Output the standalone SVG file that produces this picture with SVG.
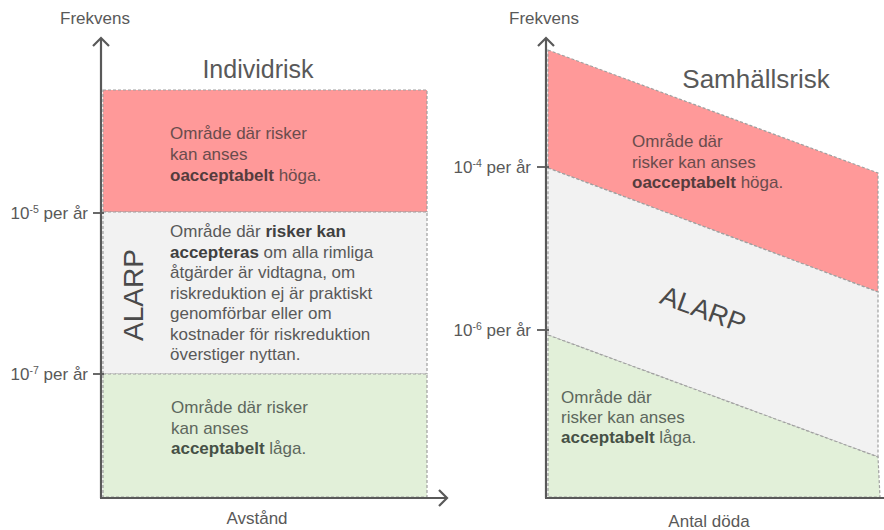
<svg xmlns="http://www.w3.org/2000/svg" width="884" height="530" viewBox="0 0 884 530">
<defs>
<style>
text{font-family:"Liberation Sans",Arial,sans-serif;fill:#595959}
.lbl{font-size:17px}
.body{font-size:17px}
.title{font-size:25px}
.alarp{font-size:28px;fill:#4a4a4a}
.b{font-weight:bold}
.rt{fill:#6a4c4d}
.rtb{fill:#553c3d;font-weight:bold}
.gt{fill:#5d675d}
.gtb{fill:#465046;font-weight:bold}
.gyb{fill:#404040;font-weight:bold}
.red{fill:#ff9999}
.gray{fill:#f2f2f2}
.green{fill:#e2f0d9}
.dash{fill:none;stroke:#a0a0a0;stroke-width:1.2;stroke-dasharray:3 2}
.axis{fill:none;stroke:#595959;stroke-width:2.2}
.tick{fill:none;stroke:#595959;stroke-width:1.8}
</style>
<marker id="arr" markerUnits="userSpaceOnUse" markerWidth="22" markerHeight="22" refX="11" refY="11" orient="auto" viewBox="0 0 22 22">
<path d="M3,3 L11,11 L3,19" fill="none" stroke="#595959" stroke-width="2.2"/>
</marker>
</defs>

<!-- Left chart: Individrisk -->
<g id="left-high">
<rect class="red" x="103" y="90" width="324" height="122"/>
<rect class="dash" x="103" y="90" width="324" height="122"/>
<text class="body rt" x="170" y="139">Område där risker</text>
<text class="body rt" x="170" y="160">kan anses</text>
<text class="body rt" x="170" y="181"><tspan class="rtb">oacceptabelt</tspan> höga.</text>
</g>
<g id="left-alarp">
<rect class="gray" x="103" y="212" width="324" height="162"/>
<rect class="dash" x="103" y="212" width="324" height="162"/>
<text class="alarp" transform="translate(143,295) rotate(-90)" text-anchor="middle">ALARP</text>
<text class="body" x="170" y="237">Område där <tspan class="gyb">risker kan</tspan></text>
<text class="body" x="170" y="257.5"><tspan class="gyb">accepteras</tspan> om alla rimliga</text>
<text class="body" x="170" y="278">åtgärder är vidtagna, om</text>
<text class="body" x="170" y="298.5">riskreduktion ej är praktiskt</text>
<text class="body" x="170" y="319">genomförbar eller om</text>
<text class="body" x="170" y="339.5">kostnader för riskreduktion</text>
<text class="body" x="170" y="360">överstiger nyttan.</text>
</g>
<g id="left-low">
<rect class="green" x="103" y="374" width="324" height="123"/>
<rect class="dash" x="103" y="374" width="324" height="123"/>
<text class="body gt" x="171" y="413">Område där risker</text>
<text class="body gt" x="171" y="433.5">kan anses</text>
<text class="body gt" x="171" y="454"><tspan class="gtb">acceptabelt</tspan> låga.</text>
</g>
<g id="left-title">
<text class="title" x="258" y="78" text-anchor="middle">Individrisk</text>
</g>

<!-- Right chart: Samhällsrisk -->
<g id="right-high">
<polygon class="red" points="548,50 878,173 878,292 548,168"/>
<polygon class="dash" points="548,50 878,173 878,292 548,168"/>
<text class="body rt" x="632" y="147">Område där</text>
<text class="body rt" x="632" y="167.5">risker kan anses</text>
<text class="body rt" x="632" y="188"><tspan class="rtb">oacceptabelt</tspan> höga.</text>
</g>
<g id="right-alarp">
<polygon class="gray" points="548,168 878,292 878,457 548,335"/>
<polygon class="dash" points="548,168 878,292 878,457 548,335"/>
<text class="alarp" style="font-size:27px" transform="translate(700,318) rotate(20)" text-anchor="middle">ALARP</text>
</g>
<g id="right-low">
<polygon class="green" points="548,335 878,457 880,497 548,497"/>
<polygon class="dash" points="548,335 878,457 880,497 548,497"/>
<text class="body gt" x="561" y="403">Område där</text>
<text class="body gt" x="561" y="423">risker kan anses</text>
<text class="body gt" x="561" y="443"><tspan class="gtb">acceptabelt</tspan> låga.</text>
</g>
<g id="right-title">
<text class="title" style="font-size:26px" x="756" y="88" text-anchor="middle">Samhällsrisk</text>
</g>

<!-- Axes, ticks -->
<g id="connectors">
<path class="axis" d="M101,498 L101,38" marker-end="url(#arr)"/>
<path class="axis" d="M100,498 L447,498" marker-end="url(#arr)"/>
<line class="tick" x1="93" y1="213" x2="104" y2="213"/>
<line class="tick" x1="93" y1="374" x2="104" y2="374"/>
<path class="axis" d="M546,498 L546,38" marker-end="url(#arr)"/>
<path class="axis" d="M545,498 L884,498"/>
<line class="tick" x1="537" y1="167" x2="549" y2="167"/>
<line class="tick" x1="537" y1="330" x2="549" y2="330"/>
</g>

<g id="axis-labels">
<text class="lbl" x="95" y="24" text-anchor="middle">Frekvens</text>
<text class="lbl" x="257" y="524" text-anchor="middle">Avstånd</text>
<text class="lbl" x="88" y="218.5" text-anchor="end">10<tspan font-size="10.5" dy="-6">-5</tspan><tspan dy="6"> per år</tspan></text>
<text class="lbl" x="88" y="379.5" text-anchor="end">10<tspan font-size="10.5" dy="-6">-7</tspan><tspan dy="6"> per år</tspan></text>
<text class="lbl" x="544" y="24" text-anchor="middle">Frekvens</text>
<text class="lbl" x="709" y="527" text-anchor="middle">Antal döda</text>
<text class="lbl" x="531" y="172.5" text-anchor="end">10<tspan font-size="10.5" dy="-6">-4</tspan><tspan dy="6"> per år</tspan></text>
<text class="lbl" x="531" y="335.5" text-anchor="end">10<tspan font-size="10.5" dy="-6">-6</tspan><tspan dy="6"> per år</tspan></text>
</g>
</svg>
